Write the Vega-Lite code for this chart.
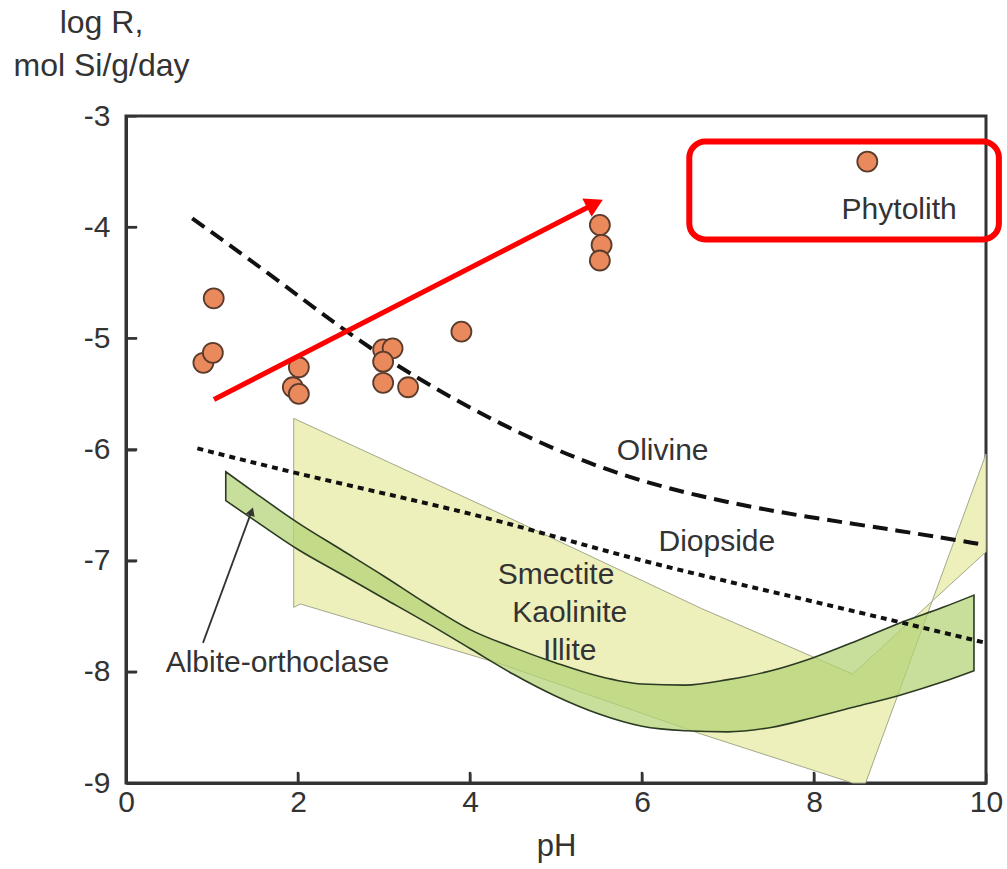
{
  "$schema": "https://vega.github.io/schema/vega-lite/v6.json",
  "width": 860,
  "height": 667,
  "autosize": {"type": "none"},
  "padding": {"left": 126, "top": 116, "right": 21, "bottom": 86},
  "background": "white",
  "config": {
    "font": "Liberation Sans",
    "view": {"stroke": "#333333", "strokeWidth": 3},
    "axis": {"grid": false, "zindex": 1}
  },
  "datasets": {
    "clay": [
      {"o": 1, "x": 1.95, "y": -5.72},
      {"o": 2, "x": 4.36, "y": -6.58},
      {"o": 3, "x": 6.69, "y": -7.43},
      {"o": 4, "x": 8.45, "y": -8.02},
      {"o": 5, "x": 10.0, "y": -6.92},
      {"o": 6, "x": 10.0, "y": -6.04},
      {"o": 7, "x": 8.6, "y": -9.0},
      {"o": 8, "x": 8.45, "y": -9.0},
      {"o": 9, "x": 6.69, "y": -8.56},
      {"o": 10, "x": 4.36, "y": -7.93},
      {"o": 11, "x": 2.03, "y": -7.39},
      {"o": 12, "x": 1.95, "y": -7.42},
      {"o": 13, "x": 1.95, "y": -5.72}
    ],
    "albite": [
      {"x": 1.16, "hi": -6.2, "lo": -6.46},
      {"x": 1.5, "hi": -6.39, "lo": -6.64},
      {"x": 2.0, "hi": -6.66, "lo": -6.9},
      {"x": 2.5, "hi": -6.9, "lo": -7.12},
      {"x": 3.0, "hi": -7.14, "lo": -7.34},
      {"x": 3.5, "hi": -7.39, "lo": -7.56},
      {"x": 4.0, "hi": -7.62, "lo": -7.79},
      {"x": 4.5, "hi": -7.78, "lo": -8.02},
      {"x": 5.0, "hi": -7.92, "lo": -8.22},
      {"x": 5.5, "hi": -8.04, "lo": -8.38},
      {"x": 6.0, "hi": -8.11, "lo": -8.49},
      {"x": 6.5, "hi": -8.12, "lo": -8.53},
      {"x": 7.0, "hi": -8.07, "lo": -8.54},
      {"x": 7.5, "hi": -7.99, "lo": -8.5},
      {"x": 8.0, "hi": -7.87, "lo": -8.41},
      {"x": 8.5, "hi": -7.72, "lo": -8.31},
      {"x": 9.0, "hi": -7.56, "lo": -8.21},
      {"x": 9.5, "hi": -7.42, "lo": -8.09},
      {"x": 9.86, "hi": -7.31, "lo": -7.99}
    ],
    "olivine": [
      {"x": 0.77, "y": -3.92},
      {"x": 1.67, "y": -4.42},
      {"x": 2.45, "y": -4.88},
      {"x": 3.22, "y": -5.29},
      {"x": 4.35, "y": -5.78},
      {"x": 5.51, "y": -6.18},
      {"x": 6.67, "y": -6.43},
      {"x": 7.84, "y": -6.6},
      {"x": 9.0, "y": -6.73},
      {"x": 10.0, "y": -6.86}
    ],
    "diopside": [
      {"x": 0.83, "y": -5.99},
      {"x": 1.95, "y": -6.21},
      {"x": 3.2, "y": -6.43},
      {"x": 4.36, "y": -6.64},
      {"x": 5.9, "y": -6.99},
      {"x": 7.46, "y": -7.27},
      {"x": 8.93, "y": -7.54},
      {"x": 10.0, "y": -7.74}
    ],
    "samples": [
      {"x": 0.9, "y": -5.22},
      {"x": 1.01, "y": -5.13},
      {"x": 1.02, "y": -4.64},
      {"x": 1.94, "y": -5.44},
      {"x": 2.01, "y": -5.5},
      {"x": 2.01, "y": -5.26},
      {"x": 2.99, "y": -5.1},
      {"x": 3.1, "y": -5.09},
      {"x": 2.99, "y": -5.21},
      {"x": 2.99, "y": -5.4},
      {"x": 3.28, "y": -5.44},
      {"x": 3.9, "y": -4.94},
      {"x": 5.51, "y": -3.98},
      {"x": 5.53, "y": -4.16},
      {"x": 5.51, "y": -4.3},
      {"x": 8.62, "y": -3.41}
    ],
    "labels": [
      {"x": 6.24, "y": -6.01, "t": "Olivine"},
      {"x": 6.87, "y": -6.83, "t": "Diopside"},
      {"x": 5.0, "y": -7.13, "t": "Smectite"},
      {"x": 5.16, "y": -7.47, "t": "Kaolinite"},
      {"x": 5.16, "y": -7.81, "t": "Illite"},
      {"x": 8.99, "y": -3.85, "t": "Phytolith"},
      {"x": 1.76, "y": -7.92, "t": "Albite-orthoclase"}
    ],
    "xticks": [{"v": 2}, {"v": 4}, {"v": 6}, {"v": 8}],
    "yticks": [{"v": -4}, {"v": -5}, {"v": -6}, {"v": -7}, {"v": -8}],
    "blackArrow": [
      {"x": 0.895, "y": -7.74},
      {"x": 1.46, "y": -6.557}
    ],
    "blackHead": [{"x": 1.46, "y": -6.557}],
    "redArrow": [
      {"x": 1.023, "y": -5.55},
      {"x": 5.45, "y": -3.79}
    ],
    "redHead": [{"x": 5.452, "y": -3.789}],
    "redBox": [{"x": 6.55, "x2": 10.15, "y": -3.23, "y2": -4.11}]
  },
  "layer": [
    {
      "data": {"name": "clay"},
      "mark": {"type": "line", "fill": "#eef0bb", "stroke": "#a3a889", "strokeWidth": 1, "fillOpacity": 1},
      "encoding": {
        "x": {"field": "x", "type": "quantitative", "scale": {"domain": [0, 10], "nice": false, "zero": false},
          "axis": {"values": [0, 2, 4, 6, 8, 10], "labelExpr": "'' + datum.value", "title": "pH", "titleFontSize": 31, "titleFontWeight": "normal", "titleColor": "#333333", "titlePadding": 14,
            "labelFontSize": 30, "labelColor": "#333333", "labelPadding": 14, "tickSize": -10, "tickColor": "#333333", "tickWidth": 2,
            "domainColor": "#333333", "domainWidth": 3, "labelFlush": false}},
        "y": {"field": "y", "type": "quantitative", "scale": {"domain": [-9, -3], "nice": false, "zero": false},
          "axis": {"values": [-3, -4, -5, -6, -7, -8, -9], "labelExpr": "'' + datum.value", "title": ["log R,", "mol Si/g/day"], "titleAngle": 0, "titleAlign": "center",
            "titleBaseline": "alphabetic", "titleX": -25, "titleY": -84, "titleLineHeight": 43, "titleFontSize": 32, "titleFontWeight": "normal", "titleColor": "#333333",
            "labelFontSize": 30, "labelColor": "#333333", "labelPadding": 26, "tickSize": -10, "tickColor": "#333333", "tickWidth": 2,
            "domainColor": "#333333", "domainWidth": 3, "labelFlush": false}},
        "order": {"field": "o", "type": "quantitative"}
      }
    },
    {
      "data": {"name": "albite"},
      "mark": {"type": "area", "fill": "#b3d274", "fillOpacity": 0.72, "stroke": "#2b3a22", "strokeWidth": 1.6, "interpolate": "monotone"},
      "encoding": {
        "x": {"field": "x", "type": "quantitative"},
        "y": {"field": "hi", "type": "quantitative"},
        "y2": {"field": "lo"}
      }
    },
    {
      "data": {"name": "olivine"},
      "mark": {"type": "line", "color": "#111111", "strokeWidth": 4, "strokeDash": [15, 8], "interpolate": "basis"},
      "encoding": {
        "x": {"field": "x", "type": "quantitative"},
        "y": {"field": "y", "type": "quantitative"}
      }
    },
    {
      "data": {"name": "diopside"},
      "mark": {"type": "line", "color": "#111111", "strokeWidth": 4, "strokeDash": [6, 5], "interpolate": "basis"},
      "encoding": {
        "x": {"field": "x", "type": "quantitative"},
        "y": {"field": "y", "type": "quantitative"}
      }
    },
    {
      "data": {"name": "xticks"},
      "mark": {"type": "rule", "color": "#333333", "strokeWidth": 2.5},
      "encoding": {
        "x": {"field": "v", "type": "quantitative"},
        "y": {"datum": -9, "type": "quantitative"},
        "y2": {"datum": -8.9}
      }
    },
    {
      "data": {"name": "yticks"},
      "mark": {"type": "rule", "color": "#333333", "strokeWidth": 2.5},
      "encoding": {
        "y": {"field": "v", "type": "quantitative"},
        "x": {"datum": 0, "type": "quantitative"},
        "x2": {"datum": 0.13}
      }
    },
    {
      "data": {"name": "blackArrow"},
      "mark": {"type": "line", "color": "#333333", "strokeWidth": 1.8},
      "encoding": {
        "x": {"field": "x", "type": "quantitative"},
        "y": {"field": "y", "type": "quantitative"}
      }
    },
    {
      "data": {"name": "blackHead"},
      "mark": {"type": "point", "shape": "triangle-up", "filled": true, "color": "#333333", "size": 90, "angle": 20, "opacity": 1},
      "encoding": {
        "x": {"field": "x", "type": "quantitative"},
        "y": {"field": "y", "type": "quantitative"}
      }
    },
    {
      "data": {"name": "labels"},
      "mark": {"type": "text", "fontSize": 30, "color": "#333333", "align": "center", "baseline": "middle"},
      "encoding": {
        "x": {"field": "x", "type": "quantitative"},
        "y": {"field": "y", "type": "quantitative"},
        "text": {"field": "t"}
      }
    },
    {
      "data": {"name": "samples"},
      "mark": {"type": "point", "filled": true, "fill": "#ea8a5c", "stroke": "#5a3b2c", "strokeWidth": 1.8, "size": 400, "opacity": 1},
      "encoding": {
        "x": {"field": "x", "type": "quantitative"},
        "y": {"field": "y", "type": "quantitative"}
      }
    },
    {
      "data": {"name": "redArrow"},
      "mark": {"type": "line", "color": "#ff0000", "strokeWidth": 5},
      "encoding": {
        "x": {"field": "x", "type": "quantitative"},
        "y": {"field": "y", "type": "quantitative"}
      }
    },
    {
      "data": {"name": "redHead"},
      "mark": {"type": "point", "shape": "triangle-up", "filled": true, "color": "#ff0000", "size": 420, "angle": 63, "opacity": 1},
      "encoding": {
        "x": {"field": "x", "type": "quantitative"},
        "y": {"field": "y", "type": "quantitative"}
      }
    },
    {
      "data": {"name": "redBox"},
      "mark": {"type": "rect", "filled": false, "stroke": "#ff0000", "strokeWidth": 6, "cornerRadius": 16},
      "encoding": {
        "x": {"field": "x", "type": "quantitative"},
        "x2": {"field": "x2"},
        "y": {"field": "y", "type": "quantitative"},
        "y2": {"field": "y2"}
      }
    }
  ]
}
